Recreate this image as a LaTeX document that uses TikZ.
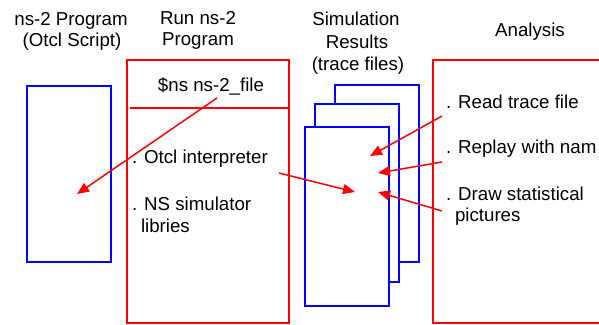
\documentclass[tikz,border=0pt]{standalone}
\usepackage{fontspec}
\setmainfont{Liberation Sans}
\usetikzlibrary{arrows.meta}
\begin{document}
\begin{tikzpicture}[x=1pt,y=-1pt,
  every node/.style={font=\fontsize{18.7}{22}\selectfont, inner sep=0pt, outer sep=0pt},
  bluebox/.style={draw=blue, line width=2pt, fill=white},
  redbox/.style={draw=red, line width=2pt},
  label/.style={anchor=base west},
  title/.style={anchor=base},
  flow/.style={draw=red, line width=1.5pt, -{Triangle[length=12pt,width=10pt]}}]
\useasboundingbox (0,0) rectangle (599,324);
\clip (0,0) rectangle (599,324);

% column titles
\node[title] (t1a) at (71,25) {ns-2 Program};
\node[title] (t1b) at (72,46) {(Otcl Script)};
\node[title] (t2a) at (198,24) {Run ns-2};
\node[title] (t2b) at (198,45) {Program};
\node[title] (t3a) at (356,25) {Simulation};
\node[title] (t3b) at (357,48) {Results};
\node[title] (t3c) at (358,70) {(trace files)};
\node[title] (t4a) at (530,36) {Analysis};

% ns-2 script
\node[bluebox, minimum width=84pt, minimum height=176pt] (script) at (69,174) {};

% ns-2 run box with its header
\node[redbox, minimum width=162pt, minimum height=263pt] (run) at (208,191.5) {};
\draw[red, line width=2pt] ([xshift=3pt,yshift=-48pt]run.north west) -- ([yshift=-48pt]run.north east);
\node[title] (cmd) at (211,91) {\$ns ns-2\_file};
\node[label] (otcl) at (132,163) {. Otcl interpreter};
\node[label] (nslib) at (132,210) {. NS simulator};
\node[label] (nslib2) at (141,232) {libries};

% stacked trace files
\node[bluebox, minimum width=84pt, minimum height=177pt] (page3) at (377,173.5) {};
\node[bluebox, minimum width=84pt, minimum height=178pt] (page2) at (357,193) {};
\node[bluebox, minimum width=84pt, minimum height=179pt] (page1) at (347,216.5) {};

% analysis box
\node[redbox, minimum width=207pt, minimum height=263pt] (ana) at (536.5,191.5) {};
\node[label] (read) at (446,108) {. Read trace file};
\node[label] (replay) at (446,153) {. Replay with nam};
\node[label] (draw) at (446,200) {. Draw statistical};
\node[label] (draw2) at (455,221) {pictures};

% arrow end points
\coordinate (s1) at (217,98);
\coordinate (e1) at (77,194);
\coordinate (s2) at (279,173);
\coordinate (e2) at (355,192);
\coordinate (s3) at (442,116);
\coordinate (e3) at (370,156);
\coordinate (s4) at (442,162);
\coordinate (e4) at (378,173);
\coordinate (s5) at (442,211);
\coordinate (e5) at (378,192);

\draw[flow] (s1) -- (e1);
\draw[flow] (s2) -- (e2);
\draw[flow] (s3) -- (e3);
\draw[flow] (s4) -- (e4);
\draw[flow] (s5) -- (e5);
\end{tikzpicture}
\end{document}
